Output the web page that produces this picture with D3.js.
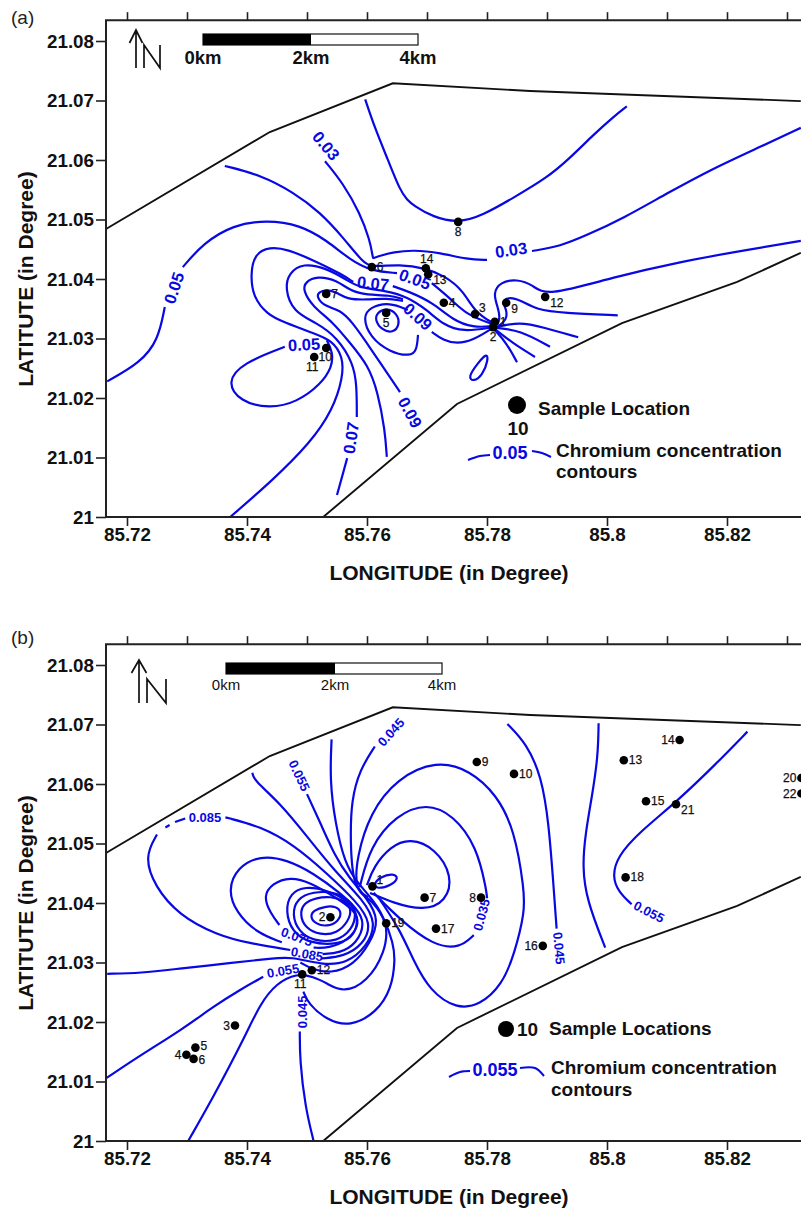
<!DOCTYPE html>
<html><head><meta charset="utf-8">
<script src="https://cdn.jsdelivr.net/npm/d3@7"></script>
<style>html,body{margin:0;padding:0;background:#fff;overflow:hidden}svg{display:block}text{font-family:"Liberation Sans",Arial,sans-serif}</style>
</head><body><svg id="c" width="801" height="1211"></svg>
<script>
// All contour and site positions: [longitude offset, latitude offset] in milli-degrees from 85.70 E, 21.00 N
const latTicks=[21,21.01,21.02,21.03,21.04,21.05,21.06,21.07,21.08];
const latTickLabels=["21","21.01","21.02","21.03","21.04","21.05","21.06","21.07","21.08"];
const lonTicks=[85.72,85.74,85.76,85.78,85.80,85.82];
const lonTickLabels=["85.72","85.74","85.76","85.78","85.8","85.82"];
const lonMinorTicks=[85.72,85.73,85.74,85.75,85.76,85.77,85.78,85.79,85.80,85.81,85.82,85.83];
const boundaryUpper=[[16.5,48.4],[43.8,64.7],[64.3,72.9],[87.2,71.6],[132.3,69.9]];
const boundaryLower=[[52.7,0],[75,19],[102.5,32.6],[121.7,39.5],[132.3,44.4]];

const sitesA=[[81.3,32.8],[81,31.9],[78,34.1],[72.8,36],[63.2,34.3],[60.8,42],[53.2,37.5],[75.2,49.6],[83.2,36],[53.2,28.4],[51.2,26.9],[89.7,37],[70.2,40.8],[69.8,41.8]];
const sitePlaceA=["r","b","ru","r","b","r","r","b","rd","bc","bl","rd","rd","t"];
const contoursA=[
[[59.7,70.2],[61.3,65.4],[63.5,60],[65.5,54.9],[66.7,53.3],[67.7,52.4],[71,50.4],[75.2,49.4],[79.3,50.7],[84.3,53.6],[90,57],[93.8,60.3],[97.7,64.2],[101,67.2],[103.3,69]],
[[53,59.8],[56,56.1],[58.8,51.1],[60.5,46.5],[61,43.5],[61,43.5],[62.5,44],[64.3,44.5],[67.7,44.9],[72.2,44.4],[76.7,43.3],[80,43.2]],
[[87.5,44.7],[92.2,45.5],[96.7,47.4],[102.7,50.2],[110,54.4],[117.7,58.6],[125.5,62.2],[132.3,65.4]],
[[36.3,59],[42.2,57.5],[47.7,54.6],[52.2,51.2],[56,47],[59.3,42.8],[60.8,42],[65.5,42.5],[69.8,41.8],[73,40.5],[76,38.1],[78,34.4],[81,32.6]],
[[16.7,22.8],[22.2,25.9],[25.2,29.7],[26.3,35.3]],
[[29.3,42],[32.7,46],[37.7,49.1],[43.3,49.9],[48.8,49.1],[53.3,46.5],[57.2,43.2],[60.8,41.3],[65,41]],
[[70.8,39.3],[73.8,36.8],[76.7,33.9],[81,32.4]],
[[57.7,39.5],[56,40.7],[51,43.2],[46.7,45],[43.8,45.4],[41.2,44.2],[40.6,40.7],[41,37],[43.4,34],[46,32.8],[51,30.9],[54.2,29.7],[56,26.9],[56,23.5],[54.3,18],[50.5,12.4],[44.3,6.2],[37.2,0]],
[[64.3,38.8],[67.2,37.8],[71,36],[74.3,33.1],[77.7,31.8],[81,32.1]],
[[81,31.9],[76,31.1],[72.7,32.3],[70,34.8],[66.7,37],[63.3,38],[58.8,38.5],[56.7,39.8],[53.3,41.8],[49.3,42.7],[47,41],[46.3,38.5],[47.7,34.4],[51.7,32.6],[55,30.2],[57.7,25.9],[58.3,22.2],[58.3,16.8]],
[[56.7,9.9],[55,3.7]],
[[66,36.6],[63.8,37.3],[60,37.3],[57.2,38],[55,39.8],[51.7,40.5],[49.7,39.5],[49.3,38.1],[51,35.3],[54.3,32.8],[57.2,29.2],[60.2,25.5],[61.8,21],[63,14.6],[63.3,10.1]],
[[66,36.3],[63.3,36.8],[60,36.5],[56.7,36.6],[55.2,37.6],[53.5,38.3],[51.8,37.8],[51.7,36.8],[53,35.4],[55.5,34.8],[57.5,32.8],[60,29.2],[62.2,25.9],[65.5,21]],
[[70.8,31.1],[72.7,29.7],[75,29.1],[77.7,29.7],[81,31.8]],
[[46.3,28.6],[39.3,25.9],[36.6,22.7],[38.8,19.4],[43.8,18.2],[48.3,19.3],[52.2,22.2],[54.2,25.2],[54.3,27.7],[53.3,29.7]],
[[66.8,34.8],[63.8,36.1],[60.5,35.3],[59.3,33.6],[60.5,30.2],[63.8,27.7],[67.2,27],[68.3,28],[68.5,30.6]],
[[81.7,32.3],[82.2,33.4],[81.8,35.3],[81,37.6],[82.2,39.5],[85,40],[87.7,39],[89.7,37],[101,40.3],[112.2,42.9],[123.3,44.9],[132.3,46.4]],
[[81.7,31.9],[83.3,33.1],[83.3,34.8],[82.5,36.1],[83.5,37],[85.5,36.5],[88.3,34.8],[92.7,34.3],[101.8,33.9]],
[[81.3,31.9],[85.5,32.8],[89.3,31.9],[95.2,30.2]],
[[81.3,31.8],[85.5,31.4],[90.5,28.6]],
[[81.3,31.6],[84.3,29.2],[88,26.9]],
[[81.3,31.4],[83.3,29.2],[85,26]]
];
const closedA=[
[[63.2,35.1],[61.7,34.4],[61.3,33.1],[62.5,31.4],[64.3,30.9],[65.5,32.3],[65,34.3]],
[[80,27.6],[78.5,25.9],[76.8,23.5],[77.7,22.7],[79.3,23.9],[80.2,26.4]]
];
const contourTextA=[["0.03",53.2,62.4,50],["0.03",84,44.9,-8],["0.05",27.8,38.5,-72],["0.07",61,39.3,6],["0.05",68,40,20],["0.09",68.5,33.7,42],["0.05",49.5,29,-3],["0.09",67.2,17.6,62],["0.07",57.3,13.3,-82]];

const sitesB=[[60.9,42.8],[53.9,37.6],[38,19.4],[29.9,14.5],[31.4,15.7],[31.1,13.8],[69.6,40.9],[79,40.9],[78.3,63.7],[84.5,61.7],[49.2,28],[50.8,28.7],[102.8,64],[112.1,67.4],[106.5,57.1],[89.3,32.8],[71.5,35.7],[103.1,44.3],[63.2,36.6],[132.4,61],[111.5,56.6],[132.4,58.4]];
const sitePlaceB=["ru","l","l","l","rm","rp","r","l","r","r","bl","r","r","l","r","l","r","r","r","l","rd","l"];
const contoursB=[
[[16.7,28.1],[22.2,28.2],[28.9,29],[37.2,29.9],[44.4,30.7],[47.2,31],[52.5,29.6],[56.6,29.8],[60,32.7],[61.6,36.6],[59.4,40.5],[54.4,45.6],[50,51.2],[45.5,56.8],[41.1,60.7],[40.9,61.9]],
[[16.6,10.6],[22.7,14.7],[29.4,18.9],[34.4,22.6],[38.8,25.4],[42.7,27.6]],
[[48.9,30],[50.8,28.9],[53.9,28.1],[57.8,29.6],[60.5,33.2],[62.1,37.2],[60,40.8],[56.9,44.4],[54.7,47.8],[52.2,53.5],[50,58.3]],
[[30.2,0],[34.4,7.4],[39.4,17],[42.2,23.1],[44.9,26.5],[48.3,28.2],[51.1,27.6],[53.3,26.5],[56.1,24.9],[60,26.7],[63,31.6],[63.6,36.6],[60.8,40.8],[58.3,43.5],[56.3,46.7],[54.7,53.4],[53.8,60.7],[54.1,67.5]],
[[51.1,0],[49.7,5.7],[48.8,13.6],[48.8,18.4]],
[[49.4,25.1],[50.2,23.1],[53.3,20.3],[57.2,19.2],[61.6,21.6],[64.1,25.6],[64.7,30.4],[64.4,33.2],[62.8,37.7],[60.5,40.8],[57.7,42.2],[57.2,50.6],[57.4,57.3],[58.8,62.4],[61.3,66.3]],
[[60.2,41],[58,42.2],[58.3,47.8],[60.5,55.1],[64.9,60.9],[71.6,64],[77.2,62.3],[81.6,58.2],[84.6,52.3],[86.2,42.2],[86.3,38.5],[84.6,31.5],[82.5,26.2],[78.8,22.8],[74.9,22.2],[70.5,25.2],[67.7,30.4],[65.5,35.5],[62.2,40.5]],
[[58.8,42.7],[60.5,49.5],[64.9,54.8],[69.9,56.8],[74.4,54.8],[78.3,49.5],[79.9,42.2],[80,40.8]],
[[77.8,34.6],[75.5,32.4],[71.1,32.8],[65.5,37.2],[61.1,41.7]],
[[60,43],[61.1,46.1],[63.9,49.5],[67.2,50.9],[71.4,49.2],[74.3,44.5],[73.2,40.2],[69.4,38.7],[64.4,40],[60.5,41.7]],
[[45.4,36.3],[43.9,38.3],[42.7,41.1],[44.2,43.3],[47.2,44.4],[50.5,43.5],[55,40.8],[57.8,38.9],[58.9,36.6],[56.9,33.7],[53.6,32.4],[51.1,32.5]],
[[45.8,33.4],[41.6,35],[38.2,38.4],[36.8,42.2],[38.4,46],[42.2,48],[46.6,47.3],[51.1,45],[55.5,41.7],[58.3,39.1],[59.7,36.6],[58.3,33.2],[55.5,31.6],[52.6,31.4]],
[[47.2,32.1],[40.5,33.2],[35,34.6],[28.6,38],[24.6,42.8],[22.9,47.8],[25,51.5]],
[[26.4,52.7],[27.1,53.1]],
[[28,53.6],[29.7,54.2]],
[[36.4,54.4],[42.2,52.9],[47.8,49.8],[53.3,45],[58.3,40.2],[60.8,36.6],[59.4,33],[56.1,31],[52.5,30.7]],
[[83.4,70.1],[86.6,66.8],[89.1,61.2],[90.3,53.4],[91.1,42.7],[91.6,35.7]],
[[98.6,70.2],[98.5,64.6],[97.5,57.9],[96.4,51.7],[95.9,46.1],[96.6,40.5],[99.7,32.5]],
[[123.4,68.8],[118.3,63.5],[111.6,57],[105.5,52],[101.7,47.8],[100.9,44.4],[101.9,41.9],[104.1,39.8]]
];
const closedB=[
[[53,39.4],[51.1,38.8],[50.5,37.7],[51.4,36.5],[53.3,36],[55.3,36.9],[55.8,38.6],[54.7,39.5]],
[[51.6,40.9],[49.4,40],[48.8,38],[49.7,35.8],[52.2,34.6],[55,34.9],[56.9,36.9],[57.5,39.1],[56.1,40.5],[53.9,41.1]],
[[51.1,41.9],[48.3,40.8],[47.5,38],[48.6,35.2],[51.1,33.6],[55,33.5],[57.5,35.5],[58.3,38.3],[57.2,40.5],[54.4,41.9]],
[[49.7,42.8],[47.2,41.7],[46.4,38.6],[47.5,35.2],[50.3,33.2],[55.5,33],[58,34.6],[58.6,37.7],[57.2,40.2],[53.3,42.2]],
[[61.1,43.2],[62.2,44.4],[64.4,45],[65.3,44.2],[64.1,43],[61.6,42.3]]
];
const contourTextB=[["0.045",64,68.7,-48],["0.055",48.7,61.4,65],["0.085",33,54.4,0],["0.075",48.3,34.3,20],["0.085",50,31.4,10],["0.055",46,28.6,-10],["0.045",49.2,21.7,-90],["0.035",79.1,38,-75],["0.045",92,32.4,85],["0.055",107,38.5,27]];

const svg=d3.select("#c");
const blue="#0808e4";
const lon=a=>85.7+a/1000, lat=b=>21+b/1000;

function panel(o){
  const x=d3.scaleLinear().domain([85.72,85.82]).range([127,727]);
  const y=d3.scaleLinear().domain([21,21.08]).range([o.base,o.base-476]);
  const g=svg.append("g");
  const px=d=>x(lon(d[0])), py=d=>y(lat(d[1]));
  const topY=y(21.0835), leftX=106, rightX=801;

  const line=d3.line().x(px).y(py);
  g.selectAll(".bd").data([boundaryUpper,boundaryLower]).join("path")
    .attr("d",line).attr("fill","none").attr("stroke","#111").attr("stroke-width",1.9);

  const open=d3.line().x(px).y(py).curve(d3.curveBasis);
  const closed=d3.line().x(px).y(py).curve(d3.curveBasisClosed);
  g.selectAll(".co").data(o.contours).join("path").attr("d",open)
    .attr("fill","none").attr("stroke",blue).attr("stroke-width",2.2).attr("stroke-linejoin","round");
  g.selectAll(".cc").data(o.closed).join("path").attr("d",closed)
    .attr("fill","none").attr("stroke",blue).attr("stroke-width",2.2);

  g.selectAll(".cl").data(o.text).join("text")
    .attr("transform",d=>`translate(${px([d[1],d[2]])},${py([d[1],d[2]])}) rotate(${d[3]})`)
    .attr("text-anchor","middle").attr("dominant-baseline","central")
    .attr("font-size",o.labelSize).attr("font-weight",700).attr("fill",blue).text(d=>d[0]);

  g.selectAll(".s").data(o.sites).join("circle")
    .attr("cx",px).attr("cy",py).attr("r",4.3).attr("fill","#000");
  const place={r:[5,0,"start"],rm:[5,-1.5,"start"],rp:[5,1.5,"start"],l:[-5,0,"end"],b:[0,10,"middle"],t:[1,-9,"middle"],ru:[4,-6,"start"],rd:[5,6,"start"],bc:[-1,9,"middle"],bl:[-2,10,"middle"]};
  g.selectAll(".sl").data(o.sites).join("text")
    .attr("x",(d,i)=>px(d)+place[o.place[i]][0]).attr("y",(d,i)=>py(d)+place[o.place[i]][1])
    .attr("text-anchor",(d,i)=>place[o.place[i]][2]).attr("dominant-baseline","central")
    .attr("font-size",12).attr("fill","#111").attr("stroke","#111").attr("stroke-width",0.25).text((d,i)=>i+1);

  // axes
  const axL=g.append("g").attr("transform",`translate(${leftX},0)`)
    .call(d3.axisLeft(y).tickValues(latTicks).tickSize(10).tickPadding(2).tickFormat((d,i)=>latTickLabels[i]));
  const axB=g.append("g").attr("transform",`translate(0,${o.base})`)
    .call(d3.axisBottom(x).tickValues(lonTicks).tickSize(9).tickPadding(2).tickFormat((d,i)=>lonTickLabels[i]));
  const axT=g.append("g").attr("transform",`translate(0,${topY})`)
    .call(d3.axisTop(x).tickValues(lonMinorTicks).tickSize(8).tickFormat(""));
  [axL,axB,axT].forEach(a=>{a.select(".domain").remove();
    a.selectAll("line").attr("stroke","#222").attr("stroke-width",1.6);
    a.selectAll("text").attr("font-family","Liberation Sans").attr("font-size",18.8).attr("font-weight",700).attr("fill","#111");});
  g.append("path").attr("d",`M${rightX},${topY}H${leftX}V${o.base}H${rightX}`)
    .attr("fill","none").attr("stroke","#222").attr("stroke-width",2);

  g.append("text").attr("x",449).attr("y",o.base+55).attr("text-anchor","middle").attr("dominant-baseline","central")
    .attr("font-size",o.titleSize).attr("font-weight",700).attr("fill","#111").text("LONGITUDE (in Degree)");
  g.append("text").attr("transform",`translate(25,${o.base-238}) rotate(-90)`).attr("text-anchor","middle").attr("dominant-baseline","central")
    .attr("font-size",o.titleSize).attr("font-weight",700).attr("fill","#111").text("LATITUTE (in Degree)");
  g.append("text").attr("x",11).attr("y",o.tagY).attr("dominant-baseline","central")
    .attr("font-size",19).attr("fill","#222").text(o.tag);

  // north arrow
  const n=o.north;
  g.append("path").attr("d",`M${n.x},${n.y1}V${n.y0}M${n.x-n.hw},${n.y0+13}L${n.x},${n.y0}L${n.x+n.hw},${n.y0+13}M${n.nx0},${n.y1}V${n.ny}L${n.nx1},${n.y1}V${n.ny}`)
    .attr("fill","none").attr("stroke","#111").attr("stroke-width",1.7);

  // scale bar
  const s=o.scale;
  g.append("rect").attr("x",s.x0).attr("y",s.y).attr("width",s.x2-s.x0).attr("height",s.h).attr("fill","#fff").attr("stroke","#111").attr("stroke-width",1.2);
  g.append("rect").attr("x",s.x0).attr("y",s.y).attr("width",s.x1-s.x0).attr("height",s.h).attr("fill","#000");
  g.selectAll(".sb").data(["0km","2km","4km"]).join("text")
    .attr("x",(d,i)=>[s.x0,s.x1,s.x2][i]).attr("y",s.ty).attr("text-anchor","middle").attr("dominant-baseline","central")
    .attr("font-size",s.fs).attr("font-weight",s.fw).attr("fill","#111").text(d=>d);

  // legend
  const L=o.legend;
  g.append("circle").attr("cx",L.dx).attr("cy",L.dy).attr("r",L.r).attr("fill","#000");
  L.texts.forEach(t=>g.append("text").attr("x",t[1]).attr("y",t[2]).attr("dominant-baseline","central")
    .attr("text-anchor",t[3]||"start").attr("font-size",L.fs).attr("font-weight",700).attr("fill","#111").text(t[0]));
  g.append("text").attr("x",L.cx).attr("y",L.cy).attr("text-anchor","middle").attr("dominant-baseline","central")
    .attr("font-size",18).attr("font-weight",700).attr("fill",blue).text(L.ctext);
  const ll=d3.line().curve(d3.curveCatmullRom);
  L.lines.forEach(p=>g.append("path").attr("d",ll(p)).attr("fill","none").attr("stroke",blue).attr("stroke-width",2));
}

panel({base:517,tag:"(a)",tagY:17,contours:contoursA,closed:closedA,text:contourTextA,sites:sitesA,place:sitePlaceA,labelSize:16.5,titleSize:21,
  north:{x:136,y0:30,y1:68,hw:6.5,nx0:144,nx1:160,ny:45},
  scale:{x0:203,x1:311,x2:418,y:34,h:11,ty:57,fs:18.5,fw:700},
  legend:{dx:517,dy:405,r:9,fs:19,texts:[["Sample Location",538,408],["10",518,428,"middle"],["Chromium concentration",556,450],["contours",556,471]],
    cx:510,cy:453,ctext:"0.05",lines:[[[468,460],[480,456],[490,455]],[[532,451],[542,453],[551,457]]]}});
panel({base:1141,tag:"(b)",tagY:637,contours:contoursB,closed:closedB,text:contourTextB,sites:sitesB,place:sitePlaceB,labelSize:13,titleSize:21,
  north:{x:139,y0:660,y1:703,hw:7.5,nx0:147,nx1:166,ny:679},
  scale:{x0:226,x1:335,x2:442,y:663,h:11,ty:684,fs:15,fw:400},
  legend:{dx:506,dy:1029,r:8,fs:19,texts:[["10",517,1029],["Sample Locations",549,1028],["Chromium concentration",551,1067],["contours",551,1089]],
    cx:495,cy:1070,ctext:"0.055",lines:[[[449,1077],[460,1072],[470,1071]],[[520,1068],[535,1068],[544,1076]]]}});
</script></body></html>
